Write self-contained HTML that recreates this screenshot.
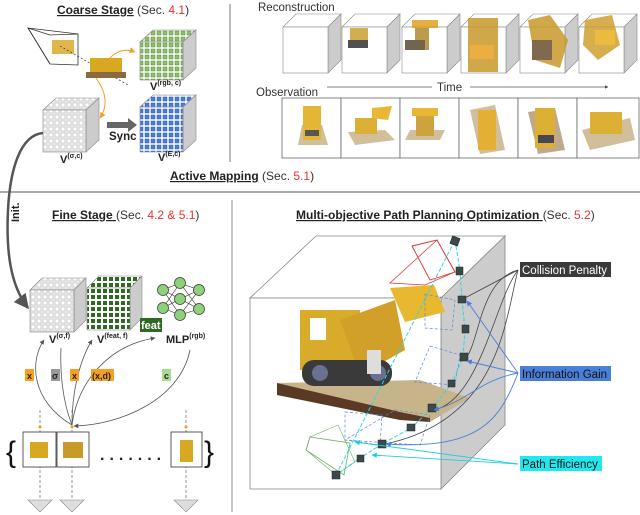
<!DOCTYPE html>
<html><head><meta charset="utf-8"><style>
html,body{margin:0;padding:0;background:#fff;width:640px;height:515px;overflow:hidden}
svg{display:block;font-family:"Liberation Sans",Arial,sans-serif}
</style></head><body>
<svg width="640" height="515" viewBox="0 0 640 515" xmlns="http://www.w3.org/2000/svg">
<defs>
<pattern id="pw" width="6" height="6" patternUnits="userSpaceOnUse"><rect width="6" height="6" fill="#eee"/><rect x="1" y="1" width="4" height="4" fill="#fff" stroke="#bbb" stroke-width="0.6"/></pattern>
<pattern id="pg" width="6" height="6" patternUnits="userSpaceOnUse"><rect width="6" height="6" fill="#fff"/><rect x="1" y="1" width="4" height="4" fill="#8dc06a" stroke="#5a8a3a" stroke-width="0.5"/></pattern>
<pattern id="pb" width="6" height="6" patternUnits="userSpaceOnUse"><rect width="6" height="6" fill="#fff"/><rect x="1" y="1" width="4" height="4" fill="#4a7fd8" stroke="#2a5ab0" stroke-width="0.5"/></pattern>
<pattern id="pd" width="6" height="6" patternUnits="userSpaceOnUse"><rect width="6" height="6" fill="#fff"/><rect x="1" y="1" width="4" height="4" fill="#2f6a22"/></pattern>
<marker id="ah" viewBox="0 0 10 10" refX="9" refY="5" markerWidth="6" markerHeight="6" orient="auto"><path d="M0,0L10,5L0,10z" fill="#555"/></marker>
<marker id="ao" viewBox="0 0 10 10" refX="9" refY="5" markerWidth="6" markerHeight="6" orient="auto"><path d="M0,0L10,5L0,10z" fill="#f0a020"/></marker>
<marker id="ab" viewBox="0 0 10 10" refX="9" refY="5" markerWidth="6" markerHeight="6" orient="auto"><path d="M0,0L10,5L0,10z" fill="#4a7fd8"/></marker>
<marker id="ac" viewBox="0 0 10 10" refX="9" refY="5" markerWidth="6" markerHeight="6" orient="auto"><path d="M0,0L10,5L0,10z" fill="#1ad0e0"/></marker>
<marker id="ag" viewBox="0 0 10 10" refX="9" refY="5" markerWidth="5" markerHeight="5" orient="auto"><path d="M0,0L10,5L0,10z" fill="#444"/></marker>
</defs>

<line x1="230" y1="4" x2="230" y2="162" stroke="#777" stroke-width="1"/>
<line x1="0" y1="192" x2="640" y2="192" stroke="#777" stroke-width="1.2"/>
<line x1="232" y1="200" x2="232" y2="512" stroke="#888" stroke-width="1"/>
<line x1="250" y1="300" x2="250" y2="485" stroke="#ccc" stroke-width="0.8"/>

<text x="57" y="14" font-size="12" fill="#333"><tspan font-weight="bold" fill="#222" text-decoration="underline">Coarse Stage</tspan> (Sec. <tspan fill="#e83030">4.1</tspan>)</text>
<path d="M28,28 L50,35 L78,34 L78,65 L50,64 Z" fill="none" stroke="#333" stroke-width="0.8"/>
<line x1="28" y1="28" x2="78" y2="34" stroke="#333" stroke-width="0.8"/>
<line x1="28" y1="28" x2="50" y2="64" stroke="#333" stroke-width="0.8"/>
<rect x="52" y="40" width="22" height="14" fill="#d9a520" opacity="0.8"/>
<line x1="60" y1="46" x2="128" y2="85" stroke="#333" stroke-dasharray="2,2" stroke-width="0.7"/>
<rect x="90" y="58" width="32" height="20" fill="#d8a820"/>
<rect x="86" y="72" width="40" height="6" fill="#8a6a40"/>
<path d="M108,60 Q120,46 135,52" fill="none" stroke="#f0a020" stroke-width="1" marker-end="url(#ao)"/>
<path d="M96,78 Q112,100 100,118" fill="none" stroke="#f0a020" stroke-width="1" marker-end="url(#ao)"/>
<polygon points="140,42 153,30 196,30 183,42" fill="url(#pg)" stroke="#888" stroke-width="0.6"/>
<polygon points="183,42 196,30 196,68 183,80" fill="#ccc" stroke="#888" stroke-width="0.6"/>
<rect x="140" y="42" width="43" height="38" fill="url(#pg)" stroke="#888" stroke-width="0.6"/>
<text x="150" y="90" font-size="11" font-weight="bold" fill="#222">V<tspan font-size="7" dy="-5">(rgb, c)</tspan></text>
<polygon points="43,110 56,98 99,98 86,110" fill="url(#pw)" stroke="#888" stroke-width="0.6"/>
<polygon points="86,110 99,98 99,140 86,152" fill="#ccc" stroke="#888" stroke-width="0.6"/>
<rect x="43" y="110" width="43" height="42" fill="url(#pw)" stroke="#888" stroke-width="0.6"/>
<text x="60" y="163" font-size="11" font-weight="bold" fill="#222">V<tspan font-size="7" dy="-5">(σ,c)</tspan></text>
<rect x="107" y="122" width="22" height="6" fill="#666"/><polygon points="128,118 137,125 128,132" fill="#666"/>
<text x="109" y="140" font-size="11.5" font-weight="bold" fill="#222">Sync</text>
<polygon points="140,107 153,95 196,95 183,107" fill="url(#pb)" stroke="#888" stroke-width="0.6"/>
<polygon points="183,107 196,95 196,140 183,152" fill="#ccc" stroke="#888" stroke-width="0.6"/>
<rect x="140" y="107" width="43" height="45" fill="url(#pb)" stroke="#888" stroke-width="0.6"/>
<text x="158" y="161" font-size="11" font-weight="bold" fill="#222">V<tspan font-size="7" dy="-5">(E,c)</tspan></text>

<text x="170" y="180" font-size="12" fill="#333"><tspan font-weight="bold" fill="#222" text-decoration="underline">Active Mapping</tspan> (Sec. <tspan fill="#e83030">5.1</tspan>)</text>

<path d="M43,133 C20,135 10,170 8,210 C6,250 10,285 28,308" fill="none" stroke="#555" stroke-width="2.5" marker-end="url(#ah)"/>
<text x="19" y="222" font-size="11" font-weight="bold" fill="#222" transform="rotate(-90 19 222)">Init.</text>

<text x="258" y="11" font-size="11.5" fill="#333">Reconstruction</text>
<g stroke="#888" stroke-width="0.6">
<g transform="translate(283,0)"><polygon points="0,27 13,14 58,14 45,27" fill="#fff"/><polygon points="45,27 58,14 58,60 45,73" fill="#ccc"/><rect x="0" y="27" width="45" height="46" fill="#fff"/></g>
<g transform="translate(342,0)"><polygon points="0,27 13,14 58,14 45,27" fill="#fff"/><polygon points="45,27 58,14 58,60 45,73" fill="#ccc"/><rect x="0" y="27" width="45" height="46" fill="#fff"/></g>
<g transform="translate(402,0)"><polygon points="0,27 13,14 58,14 45,27" fill="#fff"/><polygon points="45,27 58,14 58,60 45,73" fill="#ccc"/><rect x="0" y="27" width="45" height="46" fill="#fff"/></g>
<g transform="translate(461,0)"><polygon points="0,27 13,14 58,14 45,27" fill="#fff"/><polygon points="45,27 58,14 58,60 45,73" fill="#ccc"/><rect x="0" y="27" width="45" height="46" fill="#fff"/></g>
<g transform="translate(520,0)"><polygon points="0,27 13,14 58,14 45,27" fill="#fff"/><polygon points="45,27 58,14 58,60 45,73" fill="#ccc"/><rect x="0" y="27" width="45" height="46" fill="#fff"/></g>
<g transform="translate(579,0)"><polygon points="0,27 13,14 58,14 45,27" fill="#fff"/><polygon points="45,27 58,14 58,60 45,73" fill="#ccc"/><rect x="0" y="27" width="45" height="46" fill="#fff"/></g>
</g>
<g opacity="0.85">
<rect x="350" y="28" width="18" height="18" fill="#c9a030"/><rect x="348" y="40" width="20" height="8" fill="#333"/>
<rect x="412" y="20" width="26" height="8" fill="#e0a020"/><rect x="415" y="28" width="14" height="22" fill="#b08a30"/><rect x="405" y="40" width="20" height="10" fill="#5a4a30"/>
<rect x="468" y="18" width="30" height="54" fill="#c8982a"/><rect x="470" y="45" width="24" height="14" fill="#e8a020"/>
<polygon points="528,20 550,15 568,40 560,68 535,60" fill="#c89a2a"/><rect x="532" y="40" width="20" height="20" fill="#6a5030"/>
<polygon points="585,20 612,15 620,45 598,60 583,45" fill="#d0a030"/><rect x="595" y="30" width="20" height="15" fill="#e8b020"/>
</g>
<text x="256" y="96" font-size="11.5" fill="#333">Observation</text>
<line x1="327" y1="87" x2="432" y2="87" stroke="#555" stroke-width="0.7"/>
<text x="437" y="91" font-size="11.5" fill="#333">Time</text>
<line x1="470" y1="87" x2="608" y2="87" stroke="#555" stroke-width="0.7" marker-end="url(#ag)"/>
<g fill="#fff" stroke="#666" stroke-width="0.8">
<rect x="282" y="98" width="59" height="60"/><rect x="341" y="98" width="59" height="60"/><rect x="400" y="98" width="59" height="60"/><rect x="459" y="98" width="59" height="60"/><rect x="518" y="98" width="59" height="60"/><rect x="577" y="98" width="62" height="60"/>
</g>
<g opacity="0.9">
<polygon points="298,145 328,145 322,125 302,125" fill="#cdb890"/><rect x="303" y="106" width="18" height="34" fill="#e0b020"/><rect x="305" y="130" width="14" height="6" fill="#444"/>
<polygon points="348,132 385,130 395,140 355,145" fill="#cdb890"/><rect x="355" y="118" width="22" height="16" fill="#d8a820"/><polygon points="372,108 392,106 388,120 372,118" fill="#e8b020"/>
<polygon points="405,140 440,140 445,130 410,130" fill="#cdb890"/><rect x="412" y="108" width="26" height="8" fill="#e8b020"/><rect x="416" y="116" width="18" height="20" fill="#c89a2a"/>
<polygon points="470,110 495,105 505,150 480,154" fill="#cdb890"/><rect x="478" y="110" width="18" height="40" fill="#e0a820"/>
<polygon points="528,112 555,108 565,150 538,154" fill="#b8a080"/><rect x="535" y="108" width="20" height="40" fill="#d8a820"/><rect x="538" y="135" width="16" height="8" fill="#334"/>
<polygon points="582,130 630,118 635,140 590,150" fill="#cdb890"/><rect x="590" y="112" width="32" height="22" fill="#d8a820"/>
</g>

<text x="52" y="219" font-size="12" fill="#333"><tspan font-weight="bold" fill="#222" text-decoration="underline">Fine Stage </tspan> (Sec. <tspan fill="#e83030">4.2 &amp; 5.1</tspan>)</text>
<polygon points="30,290 42,278 86,278 74,290" fill="url(#pw)" stroke="#888" stroke-width="0.6"/>
<polygon points="74,290 86,278 86,320 74,332" fill="#ccc" stroke="#888" stroke-width="0.6"/>
<rect x="30" y="290" width="44" height="42" fill="url(#pw)" stroke="#888" stroke-width="0.6"/>
<text x="49" y="343" font-size="11" font-weight="bold" fill="#222">V<tspan font-size="7" dy="-5">(σ,f)</tspan></text>
<polygon points="87,288 99,276 142,276 130,288" fill="url(#pd)" stroke="#888" stroke-width="0.6"/>
<polygon points="130,288 142,276 142,318 130,330" fill="#ccc" stroke="#888" stroke-width="0.6"/>
<rect x="87" y="288" width="43" height="42" fill="url(#pd)" stroke="#888" stroke-width="0.6"/>
<text x="97" y="343" font-size="11" font-weight="bold" fill="#222">V<tspan font-size="7" dy="-5">(feat, f)</tspan></text>
<g stroke="#222" stroke-width="0.6">
<line x1="163" y1="290" x2="180" y2="283"/><line x1="163" y1="290" x2="180" y2="299"/><line x1="163" y1="290" x2="180" y2="315"/>
<line x1="163" y1="308" x2="180" y2="283"/><line x1="163" y1="308" x2="180" y2="299"/><line x1="163" y1="308" x2="180" y2="315"/>
<line x1="180" y1="283" x2="199" y2="290"/><line x1="180" y1="283" x2="199" y2="309"/><line x1="180" y1="299" x2="199" y2="290"/><line x1="180" y1="299" x2="199" y2="309"/><line x1="180" y1="315" x2="199" y2="290"/><line x1="180" y1="315" x2="199" y2="309"/>
</g>
<g fill="#8fd07a" stroke="#333" stroke-width="0.7">
<circle cx="163" cy="290" r="5.5"/><circle cx="163" cy="308" r="5.5"/><circle cx="180" cy="283" r="5.5"/><circle cx="180" cy="299" r="5.5"/><circle cx="180" cy="315" r="5.5"/><circle cx="199" cy="290" r="5.5"/><circle cx="199" cy="309" r="5.5"/>
</g>
<rect x="140" y="318" width="22" height="14" fill="#2f6a22"/>
<text x="141" y="329" font-size="11" font-weight="bold" fill="#fff">feat</text>
<text x="166" y="343" font-size="11" font-weight="bold" fill="#222">MLP<tspan font-size="7" dy="-5">(rgb)</tspan></text>

<g fill="none" stroke="#555" stroke-width="0.8">
<path d="M72,425 C30,400 30,360 44,340" marker-end="url(#ah)"/>
<path d="M72,425 C62,400 60,370 61,348"/>
<path d="M72,425 C72,390 80,360 92,340" marker-end="url(#ah)"/>
<path d="M72,425 C78,380 110,345 155,338" marker-end="url(#ah)"/>
<path d="M190,350 C180,400 120,425 74,426" marker-end="url(#ah)"/>
</g>
<rect x="25" y="369" width="9" height="12" fill="#f5a020"/><text x="27" y="379" font-size="9" font-weight="bold" fill="#222">x</text>
<rect x="51" y="369" width="9" height="12" fill="#999"/><text x="52" y="379" font-size="9" font-weight="bold" fill="#222">σ</text>
<rect x="70" y="369" width="9" height="12" fill="#f5a020"/><text x="72" y="379" font-size="9" font-weight="bold" fill="#222">x</text>
<rect x="91" y="369" width="23" height="12" fill="#f5a020"/><text x="92" y="379" font-size="9" font-weight="bold" fill="#222">(x,d)</text>
<rect x="162" y="369" width="9" height="12" fill="#a8dc90"/><text x="164" y="379" font-size="9" font-weight="bold" fill="#222">c</text>
<g stroke="#666" stroke-width="0.7" stroke-dasharray="3,2">
<line x1="40" y1="410" x2="40" y2="500"/><line x1="72" y1="410" x2="72" y2="500"/><line x1="186" y1="410" x2="186" y2="500"/>
</g>
<circle cx="40" cy="427" r="1.5" fill="#f0a020"/><circle cx="72" cy="427" r="1.5" fill="#f0a020"/><circle cx="186" cy="427" r="1.5" fill="#f0a020"/>
<g fill="#fff" stroke="#333" stroke-width="0.8">
<rect x="23" y="432" width="33" height="35"/><rect x="57" y="432" width="32" height="35"/><rect x="171" y="432" width="31" height="35"/>
</g>
<rect x="30" y="442" width="18" height="16" fill="#d8a820"/><rect x="63" y="442" width="20" height="16" fill="#c89a2a"/><rect x="180" y="440" width="13" height="22" fill="#d8a820"/>
<text x="6" y="462" font-size="30" fill="#111">{</text>
<text x="204" y="462" font-size="30" fill="#111">}</text>
<text x="100" y="460" font-size="16" font-weight="bold" fill="#222" letter-spacing="5">.......</text>
<g fill="#ddd" stroke="#888" stroke-width="0.6">
<polygon points="28,500 52,500 40,512"/><polygon points="60,500 84,500 72,512"/><polygon points="174,500 198,500 186,512"/>
</g>

<text x="296" y="219" font-size="12" fill="#333"><tspan font-weight="bold" fill="#222" text-decoration="underline">Multi-objective Path Planning Optimization </tspan> (Sec. <tspan fill="#e83030">5.2</tspan>)</text>
<polygon points="250,298 316,236 505,236 441,298" fill="#fff" stroke="#888" stroke-width="0.8"/>
<polygon points="441,298 505,236 505,425 441,489" fill="#ccc" stroke="#888" stroke-width="0.8"/>
<rect x="250" y="298" width="191" height="191" fill="#fff" stroke="#888" stroke-width="0.8"/>
<polygon points="277,383 420,380 470,398 430,422 400,415 277,395" fill="#c8b48a"/>
<polygon points="277,383 277,395 400,420 430,422 430,418 400,412" fill="#5a3a25"/>
<rect x="300" y="310" width="60" height="60" fill="#d8ac2a"/>
<rect x="310" y="318" width="16" height="22" fill="#fff"/>
<polygon points="390,288 434,285 445,312 405,322" fill="#e8b830"/>
<polygon points="340,320 395,300 405,350 360,375" fill="#d0a028"/>
<rect x="302" y="360" width="90" height="26" rx="12" fill="#3a3a3a"/>
<circle cx="320" cy="373" r="8" fill="#6a7090"/><circle cx="378" cy="373" r="8" fill="#6a7090"/>
<rect x="367" y="350" width="14" height="24" fill="#ddd"/>
<polygon points="412,246 437,240 455,272 430,280" fill="none" stroke="#e03030" stroke-width="0.9"/>
<polygon points="390,283 425,285 455,272 437,240" fill="none" stroke="#e03030" stroke-width="0.7"/>
<polygon points="310,437 350,443 344,475 306,450" fill="none" stroke="#6ab060" stroke-width="0.8"/>
<polygon points="306,450 310,437 338,425 355,462 336,475" fill="none" stroke="#6ab060" stroke-width="0.6"/>
<g fill="none" stroke="#5a88e0" stroke-width="0.7" stroke-dasharray="3,2">
<polygon points="425,294 455,300 452,330 425,328"/><polygon points="430,346 460,355 455,385 415,382"/><polygon points="395,410 430,415 420,445 345,440"/><polygon points="345,412 382,415 380,445 345,440"/>
</g>
<g fill="none" stroke="#28d8e8" stroke-width="1" stroke-dasharray="4,2">
<polyline points="455,240 460,271 462,300 465,329 463,357 452,383 432,408 411,428 382,444 360,458 336,475"/>
<line x1="336" y1="475" x2="455" y2="240"/>
</g>
<g fill="#3a4a4a" stroke="#222" stroke-width="0.5">
<rect x="451" y="237" width="8" height="8" transform="rotate(20 455 241)"/>
<rect x="456" y="267" width="7" height="8"/><rect x="458" y="296" width="8" height="7"/><rect x="462" y="325" width="7" height="8"/><rect x="460" y="353" width="8" height="8"/><rect x="448" y="380" width="7" height="7"/><rect x="428" y="404" width="8" height="8"/><rect x="407" y="424" width="8" height="7"/><rect x="378" y="440" width="8" height="8"/><rect x="357" y="455" width="7" height="7"/><rect x="332" y="471" width="8" height="8"/>
</g>
<g fill="none" stroke="#444" stroke-width="0.8">
<path d="M518,270 L463,299"/><path d="M518,270 C480,280 480,340 466,358"/><path d="M518,270 C495,300 480,400 434,410"/><path d="M518,270 C505,320 500,420 385,444"/>
</g>
<g fill="none" stroke="#4a7fd8" stroke-width="0.9">
<path d="M518,373 L467,301" marker-end="url(#ab)"/><path d="M518,373 L467,361" marker-end="url(#ab)"/><path d="M518,373 C480,380 470,400 434,410" marker-end="url(#ab)"/><path d="M518,373 C500,420 480,450 386,444" marker-end="url(#ab)"/>
</g>
<g fill="none" stroke="#1ad0e0" stroke-width="0.9">
<path d="M518,464 L355,442" marker-end="url(#ac)"/><path d="M518,464 L372,455" marker-end="url(#ac)"/>
</g>
<rect x="520" y="262" width="91" height="15" fill="#3a3a3a"/>
<text x="522" y="274" font-size="11.5" fill="#fff">Collision Penalty</text>
<rect x="520" y="366" width="91" height="15" fill="#4a7fd8"/>
<text x="522" y="378" font-size="11.5" fill="#111">Information Gain</text>
<rect x="520" y="456" width="82" height="15" fill="#20e8f0"/>
<text x="522" y="468" font-size="11.5" fill="#111">Path Efficiency</text>
</svg>
</body></html>
